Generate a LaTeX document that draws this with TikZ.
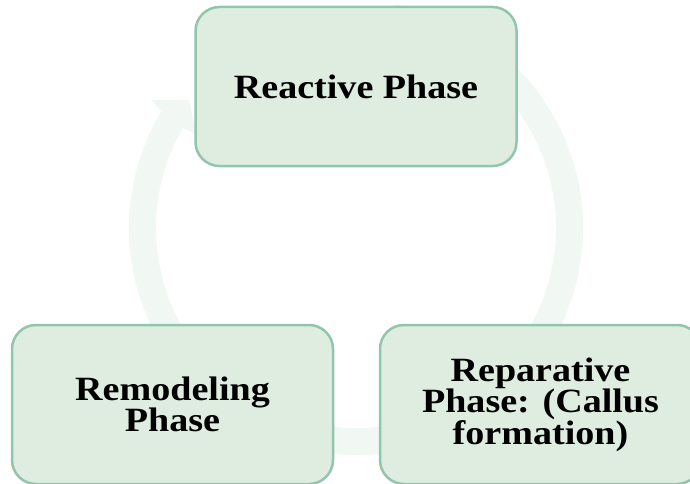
\documentclass[tikz,border=0pt]{standalone}
\usepackage{fontspec}
\setmainfont[FakeStretch=1.12]{Liberation Serif}
\definecolor{phasefill}{HTML}{DEEDE0}
\definecolor{phaseline}{HTML}{92C6AC}
\definecolor{ringfill}{HTML}{F1F7F2}
\begin{document}
\begin{tikzpicture}[x=1pt, y=1pt,
    phase/.style={draw=phaseline, fill=phasefill, line width=2.5pt, rounded corners=24pt,
      minimum width=321pt, minimum height=159pt, align=center, inner sep=0pt,
      font=\bfseries\fontsize{34}{31.5}\selectfont}]
    \useasboundingbox (0,0) rectangle (690,483);
    \clip (0,0) rectangle (690,483);
    \begin{scope}[shift={(356,255)}]
      \fill[ringfill] (80:227) arc[start angle=80, end angle=-211, radius=227]
        -- (148:241.7) -- (142.5:210.4) -- (149.6:185) -- (150:200)
        arc[start angle=-210, end angle=80, radius=200] -- cycle;
    \end{scope}
    \node[phase] (reactive) at (356,396.5) {Reactive Phase};
    \node[phase] (remodel) at (172.5,78.5) {Remodeling\\Phase};
    \node[phase] (repair) at (540.5,78.5) {Reparative\\Phase: (Callus\\formation)};
  \end{tikzpicture}
\end{document}
